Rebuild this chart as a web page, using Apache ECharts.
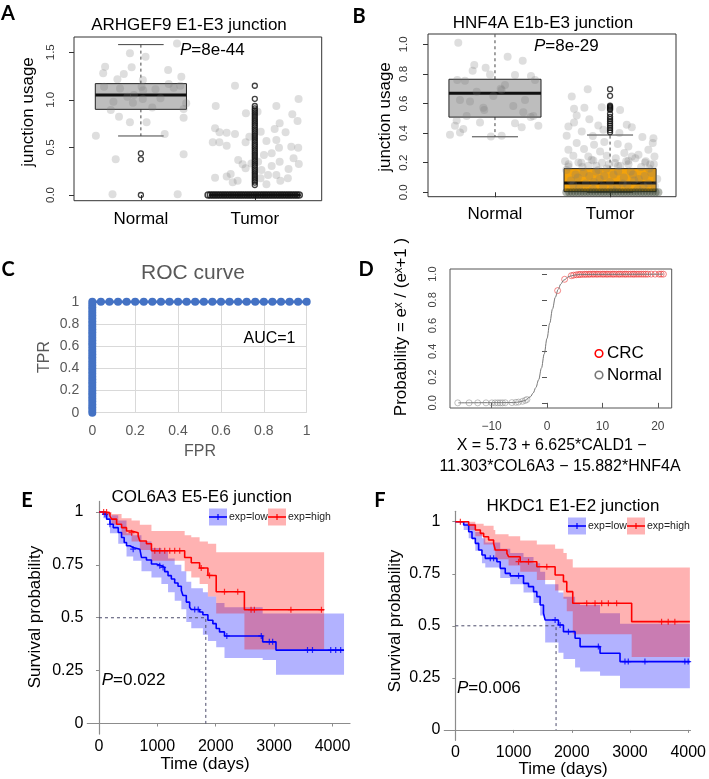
<!DOCTYPE html>
<html><head><meta charset="utf-8">
<script src="https://cdn.jsdelivr.net/npm/echarts@6/dist/echarts.min.js"></script>
<style>html,body{margin:0;padding:0;background:#fff}#c{width:709px;height:779px}</style>
</head><body><div id="c"></div>
<script>
// ================= DATA =================
const boxCategories = ['Normal', 'Tumor'];
// box stats: [x, lowerWhisker, Q1, median, Q3, upperWhisker]
const aBoxNormal = [1, 0.62, 0.90, 1.05, 1.17, 1.58];
const aBoxTumor = [2, 0, 0, 0, 0, 0];
const bBoxNormal = [1, 0.375, 0.508, 0.669, 0.764, 1.12];
const bBoxTumor = [2, 0, 0.004, 0.063, 0.16, 0.387];

const aNormalJitter = [[0.904,1.488],[1.041,1.453],[0.686,1.348],[0.919,1.341],[0.669,1.278],[1.239,1.313],[0.794,1.215],[1.017,1.208],[1.355,1.243],[1.244,1.166],[0.677,1.138],[0.817,1.12],[1.006,1.138],[1.128,1.11],[1.288,1.128],[1.346,1.148],[0.939,1.05],[0.881,1.033],[0.759,0.98],[0.93,0.97],[1.017,1.008],[1.172,1.016],[1.398,0.963],[0.736,0.893],[1.375,0.903],[0.808,0.823],[0.904,0.763],[1.05,0.763],[1.375,0.812],[0.605,0.623],[1.209,0.641],[0.779,0.375],[1.375,0.428],[0.751,0.007],[1.323,0.007],[1.317,1.593],[1.02,1.1],[0.85,1.27],[1.1,0.92]];
const aNormalOutliers = [[1,0.438],[1,0.375],[1,0.0]];
const aTumorJitter = [[1.826,1.148],[1.657,0.935],[2.189,0.935],[2.384,1.008],[1.922,0.858],[2.024,0.875],[2.329,0.848],[2.375,0.777],[2.218,0.753],[1.651,0.7],[1.753,0.654],[1.826,0.641],[1.69,0.66],[2.052,0.665],[2.174,0.693],[2.27,0.658],[1.952,0.612],[1.631,0.554],[1.689,0.554],[1.753,0.518],[1.919,0.554],[2.102,0.567],[2.189,0.578],[2.32,0.507],[2.381,0.497],[2.148,0.438],[2.212,0.497],[1.854,0.368],[1.893,0.322],[2.029,0.35],[2.218,0.35],[2.34,0.385],[2.386,0.326],[2.148,0.305],[2.296,0.273],[1.919,0.28],[2.058,0.263],[2.116,0.21],[2.189,0.21],[1.788,0.221],[1.753,0.193],[1.651,0.182],[1.849,0.15],[1.806,0.133],[2.05,0.175],[2.224,0.15],[2.29,0.175],[2.102,0.112],[1.97,0.33],[2.08,0.42]];
const aTumorOutlierY = [1.148,1.01,0.935,0.91,0.89,0.87,0.85,0.83,0.81,0.79,0.77,0.75,0.73,0.71,0.69,0.67,0.65,0.63,0.61,0.59,0.57,0.55,0.53,0.51,0.49,0.47,0.45,0.43,0.41,0.39,0.37,0.35,0.33,0.31,0.29,0.27,0.25,0.23,0.21,0.19,0.17,0.15,0.13,0.105];
const aTumorZeroX = [1.59,1.61,1.63,1.65,1.67,1.69,1.71,1.73,1.75,1.77,1.79,1.81,1.83,1.85,1.87,1.89,1.91,1.93,1.95,1.97,1.99,2.01,2.03,2.05,2.07,2.09,2.11,2.13,2.15,2.17,2.19,2.21,2.23,2.25,2.27,2.29,2.31,2.33,2.35,2.37,2.39];

const bNormalJitter = [[0.681,1.01],[1.11,0.916],[1.241,0.889],[0.82,0.86],[0.919,0.842],[0.806,0.822],[0.957,0.797],[1.174,0.793],[1.313,0.786],[0.672,0.759],[0.739,0.754],[1.348,0.759],[1.087,0.725],[0.841,0.68],[1.058,0.692],[0.986,0.651],[0.696,0.624],[0.783,0.613],[1.261,0.624],[0.899,0.572],[0.907,0.557],[1.159,0.584],[1.246,0.541],[1.333,0.516],[0.754,0.516],[0.667,0.485],[0.87,0.471],[1.174,0.467],[1.31,0.508],[0.652,0.449],[1.377,0.449],[1.232,0.44],[0.725,0.427],[0.696,0.404],[0.609,0.389],[0.965,0.377],[1.058,0.382],[1.05,0.7]];
const bTumorJitter = [[1.806,0.696],[1.667,0.647],[1.777,0.572],[1.687,0.564],[1.928,0.575],[2.087,0.557],[1.71,0.519],[1.82,0.494],[1.687,0.471],[1.638,0.444],[1.898,0.451],[2.145,0.456],[2.189,0.44],[1.754,0.411],[1.942,0.422],[2.081,0.4],[1.623,0.382],[1.85,0.38],[2.281,0.373],[2.377,0.366],[2.371,0.333],[1.71,0.333],[1.95,0.34],[1.861,0.321],[2.067,0.326],[2.159,0.31],[1.638,0.288],[1.774,0.292],[1.913,0.276],[2.124,0.265],[2.333,0.288],[2.386,0.242],[1.681,0.247],[1.811,0.242],[1.971,0.247],[2.189,0.242],[2.247,0.254],[1.609,0.209],[1.725,0.202],[1.855,0.215],[2.043,0.198],[2.159,0.213],[2.304,0.202],[1.638,0.175],[1.88,0.18],[2.07,0.178],[2.35,0.19],
[1.62,0.15],[1.66,0.08],[1.70,0.12],[1.73,0.03],[1.76,0.17],[1.79,0.06],[1.82,0.11],[1.85,0.02],[1.88,0.14],[1.91,0.09],[1.94,0.04],[1.97,0.16],[2.0,0.07],[2.03,0.12],[2.06,0.03],[2.09,0.18],[2.12,0.1],[2.15,0.05],[2.18,0.14],[2.21,0.08],[2.24,0.02],[2.27,0.17],[2.3,0.11],[2.33,0.06],[2.36,0.13],[2.39,0.04],[2.41,0.09],[1.64,0.19],[1.68,0.05],[1.72,0.1],[1.77,0.13],[1.81,0.18],[1.86,0.07],[1.9,0.15],[1.95,0.11],[1.99,0.19],[2.02,0.02],[2.07,0.14],[2.11,0.06],[2.16,0.19],[2.2,0.12],[2.25,0.09],[2.29,0.04],[2.34,0.16],[2.38,0.19],[1.75,0.2],[1.93,0.2],[2.14,0.21],[2.31,0.21],[1.84,0.22],[2.05,0.23],[2.22,0.23]];
const bTumorZeroX = [1.62,1.645,1.67,1.695,1.72,1.745,1.77,1.795,1.82,1.845,1.87,1.895,1.92,1.945,1.97,1.995,2.02,2.045,2.07,2.095,2.12,2.145,2.17,2.195,2.22,2.245,2.27,2.295,2.32,2.345,2.37,2.395,2.42];
const bTumorOutlierY = [0.697,0.652,0.585,0.578,0.572,0.565,0.558,0.53,0.51,0.495,0.48,0.465,0.45,0.435,0.42,0.405];

// ROC
const rocFPR = [0,0,0,0,0,0,0,0,0,0,0,0,0,0,0,0,0,0,0,0,0,0,0,0,0,0,0,0,0,0,0,0,0,0,0,0,0,0,0,0,0,0.04,0.08,0.12,0.16,0.2,0.24,0.28,0.32,0.36,0.4,0.44,0.48,0.52,0.56,0.6,0.64,0.68,0.72,0.76,0.8,0.84,0.88,0.92,0.96,1.0];
const rocTPR = [0,0.025,0.05,0.075,0.1,0.125,0.15,0.175,0.2,0.225,0.25,0.275,0.3,0.325,0.35,0.375,0.4,0.425,0.45,0.475,0.5,0.525,0.55,0.575,0.6,0.625,0.65,0.675,0.7,0.725,0.75,0.775,0.8,0.825,0.85,0.875,0.9,0.925,0.95,0.975,1,1,1,1,1,1,1,1,1,1,1,1,1,1,1,1,1,1,1,1,1,1,1,1,1,1];

// logistic panel
const dNormalX = [-16.1,-14.05,-12.5,-11.0,-9.95,-9.35,-8.86,-8.44,-8.03,-7.54,-6.33,-5.61,-5.13,-4.41,-3.92,-3.62];
const dNormalY = [0,0,0,0,0,0,0,0,0,0.001,0.002,0.004,0.006,0.012,0.019,0.026];
const dCrcX = [1.92,3.18,4.39,4.8,5.3,5.7,6.0,6.4,6.8,7.1,7.5,7.8,8.2,8.5,8.9,9.2,9.6,10.0,10.3,10.7,11.0,11.4,11.8,12.1,12.5,12.9,13.2,13.6,14.0,14.3,14.7,15.1,15.5,15.8,16.2,16.6,17.0,17.4,17.8,18.2,18.8,19.5,20.2,20.6,21.0];
const dCrcY = [0.872,0.96,0.988,0.992,0.995,0.997,0.998,0.998,0.999,0.999,0.999,1,1,1,1,1,1,1,1,1,1,1,1,1,1,1,1,1,1,1,1,1,1,1,1,1,1,1,1,1,1,1,1,1,1];
const dCurveX = [-16,-6,-5,-4,-3,-2.5,-2,-1.5,-1,-0.5,0,0.5,1,1.5,2,2.5,3,4,5,6,21];
const dCurveY = [0,0.002,0.007,0.018,0.047,0.076,0.12,0.18,0.27,0.38,0.5,0.62,0.73,0.82,0.88,0.924,0.953,0.982,0.993,0.998,1];

// Kaplan-Meier: [days, survival]
const eLowCurve = [[0,1],[74,0.989],[131,0.966],[188,0.942],[245,0.926],[330,0.903],[387,0.879],[432,0.856],[472,0.84],[529,0.832],[586,0.824],[700,0.817],[728,0.785],[813,0.773],[899,0.754],[984,0.746],[1069,0.738],[1126,0.718],[1183,0.699],[1240,0.683],[1297,0.664],[1354,0.649],[1411,0.629],[1439,0.605],[1496,0.574],[1553,0.55],[1581,0.539],[1724,0.527],[1780,0.514],[1866,0.488],[1951,0.472],[2008,0.449],[2065,0.433],[2150,0.414],[2804,0.386],[3032,0.347],[4198,0.347]];
const eHighCurve = [[0,1],[102,0.995],[188,0.98],[216,0.966],[302,0.942],[387,0.926],[472,0.91],[558,0.902],[671,0.887],[700,0.863],[813,0.85],[899,0.817],[1468,0.785],[1581,0.76],[1724,0.735],[1866,0.70],[2008,0.623],[2491,0.538],[3857,0.538]];
// confidence bands: [days, lower, upper]
const eLowBand = [[0,1,1],[74,0.97,1],[188,0.9,0.985],[330,0.85,0.96],[472,0.79,0.9],[586,0.77,0.89],[728,0.72,0.86],[899,0.69,0.83],[1069,0.66,0.82],[1183,0.62,0.78],[1297,0.58,0.75],[1411,0.54,0.72],[1496,0.48,0.67],[1581,0.45,0.64],[1780,0.42,0.62],[1866,0.39,0.6],[2008,0.36,0.57],[2150,0.31,0.55],[2804,0.3,0.52],[3032,0.23,0.52],[4198,0.23,0.52]];
const eHighBand = [[0,1,1],[102,0.985,1],[216,0.94,0.99],[387,0.89,0.97],[558,0.86,0.96],[700,0.82,0.94],[899,0.77,0.91],[1468,0.72,0.89],[1581,0.69,0.88],[1724,0.66,0.86],[1866,0.6,0.85],[2008,0.52,0.81],[2491,0.35,0.81],[3857,0.35,0.81]];
const eLowCensor = [[102,0.989],[188,0.942],[586,0.824],[1041,0.746],[1098,0.738],[1640,0.539],[1700,0.539],[2190,0.414],[2780,0.414],[2918,0.386],[2975,0.386],[3572,0.347],[3657,0.347],[3970,0.347],[4055,0.347],[4140,0.347]];
const eHighCensor = [[80,1],[130,1],[558,0.902],[956,0.817],[1041,0.817],[1126,0.817],[1212,0.817],[1297,0.817],[1383,0.817],[1752,0.735],[1894,0.70],[2150,0.623],[2377,0.623],[2605,0.538],[2662,0.538],[3288,0.538],[3811,0.538]];
const eMedian = [[0,0.5],[1830,0.5],[1830,0]];

const fLowCurve = [[0,1],[143,0.984],[229,0.952],[286,0.92],[343,0.896],[400,0.864],[457,0.84],[514,0.824],[714,0.808],[771,0.776],[857,0.752],[943,0.74],[1171,0.704],[1257,0.688],[1343,0.664],[1400,0.64],[1457,0.6],[1514,0.56],[1543,0.528],[1771,0.504],[1857,0.472],[2057,0.44],[2143,0.4],[2486,0.368],[2829,0.328],[4029,0.328]];
const fHighCurve = [[0,1],[229,0.984],[343,0.96],[429,0.944],[486,0.928],[571,0.912],[657,0.896],[686,0.864],[886,0.848],[914,0.832],[1114,0.808],[1400,0.784],[1714,0.744],[1857,0.712],[1914,0.664],[2017,0.608],[3029,0.52],[4029,0.52]];
const fLowBand = [[0,1,1],[143,0.96,1],[229,0.92,0.99],[343,0.86,0.95],[457,0.8,0.92],[514,0.78,0.9],[771,0.73,0.87],[943,0.7,0.85],[1171,0.66,0.83],[1343,0.61,0.8],[1457,0.55,0.76],[1543,0.42,0.7],[1771,0.37,0.66],[1857,0.34,0.64],[2057,0.3,0.61],[2143,0.28,0.6],[2486,0.26,0.56],[2829,0.2,0.51],[4029,0.2,0.51]];
const fHighBand = [[0,1,1],[229,0.96,1],[343,0.93,0.99],[486,0.89,0.98],[657,0.86,0.96],[686,0.82,0.94],[914,0.79,0.93],[1114,0.76,0.91],[1400,0.72,0.89],[1714,0.67,0.87],[1857,0.63,0.85],[1914,0.57,0.82],[2017,0.46,0.78],[3029,0.35,0.78],[4029,0.35,0.78]];
const fLowCensor = [[600,0.824],[657,0.824],[1086,0.74],[1714,0.528],[1800,0.504],[1943,0.472],[2457,0.4],[2914,0.328],[2971,0.328],[3257,0.328],[3943,0.328],[4000,0.328]];
const fHighCensor = [[86,1],[1086,0.808],[1257,0.808],[1571,0.784],[2257,0.608],[2400,0.608],[2514,0.608],[2629,0.608],[2771,0.608],[3543,0.52],[3657,0.52],[3771,0.52]];
const fMedian = [[0,0.5],[1730,0.5],[1730,0]];

const kmTicksX = [0,1000,2000,3000,4000];
const kmTicksY = [0,0.25,0.5,0.75,1];

// ================= CHART =================
const FF = '"Liberation Sans", Arial, Helvetica, sans-serif';
const chart = echarts.init(document.getElementById('c'), null, {renderer: 'canvas'});

function txt(x, y, text, size, o) {
  o = o || {};
  const al = o.align || 'center';
  return {type: 'text', x: x, y: y, rotation: o.rot || 0, z: 100, silent: true,
    style: {text: text, fontSize: size, fontFamily: o.ff || FF, fontWeight: o.fw || 'normal',
      fill: o.color || '#000', align: al, verticalAlign: 'middle', textAlign: al, textVerticalAlign: 'middle',
      rich: o.rich}};
}
function richP(x, y, rest, size) {
  return txt(x, y, '{i|P}{n|' + rest + '}', size, {align: 'left',
    rich: {i: {fontStyle: 'italic', fontSize: size, fontFamily: FF, fill: '#000'},
           n: {fontSize: size, fontFamily: FF, fill: '#000'}}});
}

function boxRender(fill) {
  return function (params, api) {
    const x = api.value(0), lo = api.value(1), q1 = api.value(2), med = api.value(3), q3 = api.value(4), hi = api.value(5);
    const hw = 0.4, cw = 0.2;
    const tl = api.coord([x - hw, q3]), br = api.coord([x + hw, q1]);
    const c = api.coord([x, q1]), c3 = api.coord([x, q3]), pLo = api.coord([x, lo]), pHi = api.coord([x, hi]);
    const loL = api.coord([x - cw, lo]), loR = api.coord([x + cw, lo]);
    const hiL = api.coord([x - cw, hi]), hiR = api.coord([x + cw, hi]);
    const mL = api.coord([x - hw, med]), mR = api.coord([x + hw, med]);
    const dash = {stroke: '#444', lineWidth: 1, lineDash: [3, 3]};
    const sol = {stroke: '#444', lineWidth: 1};
    return {type: 'group', children: [
      {type: 'line', shape: {x1: c3[0], y1: c3[1], x2: pHi[0], y2: pHi[1]}, style: dash},
      {type: 'line', shape: {x1: c[0], y1: c[1], x2: pLo[0], y2: pLo[1]}, style: dash},
      {type: 'line', shape: {x1: hiL[0], y1: hiL[1], x2: hiR[0], y2: hiR[1]}, style: sol},
      {type: 'line', shape: {x1: loL[0], y1: loL[1], x2: loR[0], y2: loR[1]}, style: sol},
      {type: 'rect', shape: {x: tl[0], y: tl[1], width: br[0] - tl[0], height: Math.max(br[1] - tl[1], 0.5)}, style: {fill: fill, stroke: '#222', lineWidth: 1}},
      {type: 'line', shape: {x1: mL[0], y1: mL[1], x2: mR[0], y2: mR[1]}, style: {stroke: '#111', lineWidth: 3}}
    ]};
  };
}
function boxSeries(gi, stats, fill) {
  return {type: 'custom', xAxisIndex: gi, yAxisIndex: gi, clip: true, silent: true,
    data: [stats], encode: {x: 0, y: 1}, renderItem: boxRender(fill)};
}
function jitterSeries(gi, pts) {
  return {type: 'scatter', xAxisIndex: gi, yAxisIndex: gi, data: pts, symbol: 'circle', symbolSize: 8, silent: true,
    itemStyle: {color: 'rgba(120,120,120,0.3)'}};
}
function ringSeries(gi, pts, size, color, bw) {
  return {type: 'scatter', xAxisIndex: gi, yAxisIndex: gi, data: pts, symbol: 'circle', symbolSize: size, silent: true,
    itemStyle: {color: 'rgba(0,0,0,0)', borderColor: color, borderWidth: bw}};
}
function bandSeries(gi, steps, color) {
  return {type: 'custom', xAxisIndex: gi, yAxisIndex: gi, silent: true, clip: true, data: [[0, 0]], encode: {x: 0, y: 1},
    renderItem: function (params, api) {
      const up = [], lo = [];
      for (let i = 0; i < steps.length; i++) {
        const t = steps[i][0], l = steps[i][1], u = steps[i][2];
        const tn = i + 1 < steps.length ? steps[i + 1][0] : t;
        up.push(api.coord([t, u]), api.coord([tn, u]));
        lo.push(api.coord([t, l]), api.coord([tn, l]));
      }
      return {type: 'polygon', shape: {points: up.concat(lo.reverse())}, style: {fill: color}};
    }};
}
function kmLine(gi, data, color) {
  return {type: 'line', xAxisIndex: gi, yAxisIndex: gi, data: data, step: 'end', symbol: 'none', silent: true,
    lineStyle: {color: color, width: 1.6}, z: 3};
}
const PLUS = 'path://M4,0h2v4h4v2h-4v4h-2v-4h-4v-2h4z';
function censor(gi, data, color) {
  return {type: 'scatter', xAxisIndex: gi, yAxisIndex: gi, data: data, symbol: PLUS, symbolSize: 6, silent: true,
    itemStyle: {color: color}, z: 4};
}
function medianLine(gi, data) {
  return {type: 'line', xAxisIndex: gi, yAxisIndex: gi, data: data, symbol: 'none', silent: true,
    lineStyle: {color: '#4a4a6a', width: 1, type: [3, 3]}, z: 5};
}
function zip(xs, ys) { return xs.map((v, i) => [v, ys[i]]); }

const noSplit = {show: false};
function boxXAxis(gi, min, max, margin) {
  return {gridIndex: gi, type: 'value', min: min, max: max, axisLine: {show: false}, splitLine: noSplit,
    axisTick: {show: true, customValues: [1, 2], length: 5, lineStyle: {color: '#333'}},
    axisLabel: {customValues: [1, 2], formatter: v => boxCategories[Math.round(v) - 1], fontSize: 17, fontFamily: FF, color: '#000', margin: margin}};
}
function boxYAxis(gi, min, max, ticks, margin) {
  return {gridIndex: gi, type: 'value', min: min, max: max, axisLine: {show: false}, splitLine: noSplit,
    axisTick: {show: true, customValues: ticks, length: 5, lineStyle: {color: '#333'}},
    axisLabel: {customValues: ticks, formatter: v => v.toFixed(1), rotate: 90, fontSize: 11.5, fontFamily: FF, color: '#333', margin: margin}};
}
function kmXAxis(gi, min, max) {
  return {gridIndex: gi, type: 'value', min: min, max: max, splitLine: noSplit,
    axisLine: {show: true, lineStyle: {color: '#8c8c8c', width: 1.2}},
    axisTick: {show: true, customValues: kmTicksX, length: 3, lineStyle: {color: '#8c8c8c'}},
    axisLabel: {customValues: kmTicksX, formatter: v => String(v), fontSize: 16, fontFamily: FF, color: '#000', margin: 4}};
}
function kmYAxis(gi) {
  return {gridIndex: gi, type: 'value', min: -0.05, max: 1.05, splitLine: noSplit,
    axisLine: {show: true, lineStyle: {color: '#8c8c8c', width: 1.2}},
    axisTick: {show: true, customValues: kmTicksY, length: 3, lineStyle: {color: '#8c8c8c'}},
    axisLabel: {customValues: kmTicksY, formatter: v => String(v), fontSize: 16, fontFamily: FF, color: '#000', margin: 4}};
}

const option = {
  animation: false,
  backgroundColor: '#fff',
  grid: [
    {left: 74, top: 37, width: 247.7, height: 163.7, show: true, borderColor: '#333', borderWidth: 1, backgroundColor: 'transparent', outerBoundsMode: 'none'},
    {left: 428, top: 34, width: 248, height: 162.7, show: true, borderColor: '#333', borderWidth: 1, backgroundColor: 'transparent', outerBoundsMode: 'none'},
    {left: 92.3, top: 301.7, width: 214.4, height: 111, outerBoundsMode: 'none'},
    {left: 450, top: 269, width: 221.7, height: 139, show: true, borderColor: '#555', borderWidth: 1, backgroundColor: 'transparent', outerBoundsMode: 'none'},
    {left: 87.3, top: 501.4, width: 262.7, height: 232.7, outerBoundsMode: 'none'},
    {left: 444.3, top: 511.3, width: 246.2, height: 229, outerBoundsMode: 'none'}
  ],
  xAxis: [
    boxXAxis(0, 0.413, 2.587, 10),
    boxXAxis(1, 0.418, 2.573, 9),
    {gridIndex: 2, type: 'value', min: 0, max: 1, interval: 0.2, axisLine: {show: false}, axisTick: {show: false},
      splitLine: {show: true, lineStyle: {color: '#d9d9d9', width: 1}},
      axisLabel: {fontSize: 14, fontFamily: FF, color: '#595959', margin: 11}},
    {gridIndex: 3, type: 'value', min: -17.5, max: 22.5, axisLine: {show: false}, splitLine: noSplit,
      axisTick: {show: true, customValues: [-10, 0, 10, 20], length: 5, lineStyle: {color: '#555'}},
      axisLabel: {customValues: [-10, 0, 10, 20], formatter: v => (v < 0 ? '\u2212' + Math.abs(v) : String(v)), fontSize: 12, fontFamily: FF, color: '#444', margin: 13}},
    kmXAxis(4, -200, 4300),
    kmXAxis(5, -190, 4040)
  ],
  yAxis: [
    boxYAxis(0, -0.06, 1.66, [0, 0.5, 1, 1.5], 17.5),
    boxYAxis(1, -0.03, 1.07, [0, 0.2, 0.4, 0.6, 0.8, 1.0], 18.5),
    {gridIndex: 2, type: 'value', min: 0, max: 1, interval: 0.2, axisLine: {show: false}, axisTick: {show: false},
      splitLine: {show: true, lineStyle: {color: '#d9d9d9', width: 1}},
      axisLabel: {fontSize: 14, fontFamily: FF, color: '#595959', margin: 13}},
    {gridIndex: 3, type: 'value', min: -0.04, max: 1.04, axisLine: {show: false}, splitLine: noSplit,
      axisTick: {show: true, customValues: [0, 0.2, 0.4, 0.6, 0.8, 1.0], length: 5, lineStyle: {color: '#555'}},
      axisLabel: {customValues: [0, 0.2, 0.4, 0.6, 0.8, 1.0], formatter: v => v.toFixed(1), rotate: 90, fontSize: 11, fontFamily: FF, color: '#444', margin: 12}},
    kmYAxis(4),
    kmYAxis(5)
  ],
  series: [
    // A
    boxSeries(0, aBoxNormal, '#bdbdbd'),
    boxSeries(0, aBoxTumor, '#bdbdbd'),
    jitterSeries(0, aNormalJitter),
    jitterSeries(0, aTumorJitter),
    ringSeries(0, aNormalOutliers, 5, '#111', 1.3),
    ringSeries(0, aTumorOutlierY.map(v => [2, v]), 5, '#111', 1.3),
    ringSeries(0, aTumorZeroX.map(v => [v, 0]), 6, '#111', 1.5),
    // B
    boxSeries(1, bBoxNormal, '#bdbdbd'),
    boxSeries(1, bBoxTumor, '#f2a20c'),
    jitterSeries(1, bNormalJitter),
    jitterSeries(1, bTumorJitter),
    {type: 'scatter', xAxisIndex: 1, yAxisIndex: 1, data: bTumorZeroX.map(v => [v, 0]), symbol: 'circle', symbolSize: 8, silent: true,
      itemStyle: {color: 'rgba(40,50,30,0.45)'}},
    ringSeries(1, bTumorOutlierY.map(v => [2, v]), 5, '#111', 1.3),
    // C
    {type: 'line', xAxisIndex: 2, yAxisIndex: 2, data: zip(rocFPR, rocTPR), symbol: 'circle', symbolSize: 8, silent: true,
      itemStyle: {color: '#4472c4'}, lineStyle: {color: '#4472c4', width: 3}},
    // D
    {type: 'line', xAxisIndex: 3, yAxisIndex: 3, data: zip(dCurveX, dCurveY), smooth: 0.35, smoothMonotone: 'x', symbol: 'none', silent: true,
      lineStyle: {color: '#777', width: 1}},
    ringSeries(3, zip(dNormalX, dNormalY), 6, 'rgba(150,150,150,0.75)', 1),
    ringSeries(3, zip(dCrcX, dCrcY), 6, 'rgba(235,40,40,0.7)', 1),
    // E
    bandSeries(4, eLowBand, 'rgba(0,0,255,0.3)'),
    bandSeries(4, eHighBand, 'rgba(255,0,0,0.3)'),
    medianLine(4, eMedian),
    kmLine(4, eLowCurve, '#0000ff'),
    kmLine(4, eHighCurve, '#ff0000'),
    censor(4, eLowCensor, '#0000ff'),
    censor(4, eHighCensor, '#ff0000'),
    // F
    bandSeries(5, fLowBand, 'rgba(0,0,255,0.3)'),
    bandSeries(5, fHighBand, 'rgba(255,0,0,0.3)'),
    medianLine(5, fMedian),
    kmLine(5, fLowCurve, '#0000ff'),
    kmLine(5, fHighCurve, '#ff0000'),
    censor(5, fLowCensor, '#0000ff'),
    censor(5, fHighCensor, '#ff0000')
  ],
  graphic: [
    // panel letters
    txt(8, 14, 'A', 20, {fw: 'bold', ff: 'Lato, "Open Sans", sans-serif'}),
    txt(359, 17, 'B', 20, {fw: 'bold', ff: 'Lato, "Open Sans", sans-serif'}),
    txt(8, 270, 'C', 20, {fw: 'bold', ff: 'Lato, "Open Sans", sans-serif'}),
    txt(366, 270, 'D', 20, {fw: 'bold', ff: 'Lato, "Open Sans", sans-serif'}),
    txt(27, 501, 'E', 20, {fw: 'bold', ff: 'Lato, "Open Sans", sans-serif'}),
    txt(380, 501, 'F', 20, {fw: 'bold', ff: 'Lato, "Open Sans", sans-serif'}),
    // A
    txt(189, 25, 'ARHGEF9 E1-E3 junction', 17),
    richP(180, 50, '=8e-44', 17),
    txt(28, 112, 'junction usage', 17, {rot: Math.PI / 2}),
    // B
    txt(543, 23, 'HNF4A E1b-E3 junction', 17),
    richP(534, 46, '=8e-29', 17),
    txt(385, 117, 'junction usage', 17, {rot: Math.PI / 2}),
    // C
    txt(193, 273, 'ROC curve', 21, {color: '#595959'}),
    txt(45, 357, 'TPR', 16, {rot: Math.PI / 2, color: '#595959'}),
    txt(200, 452, 'FPR', 16, {color: '#595959'}),
    txt(269.5, 339, 'AUC=1', 16),
    // D
    txt(401.7, 327, 'Probability = e\u02e3 / (e\u02e3+1 )', 17, {rot: Math.PI / 2}),
    txt(551.7, 446, 'X = 5.73 + 6.625*CALD1 \u2212', 16),
    txt(560, 467, '11.303*COL6A3 \u2212 15.882*HNF4A', 16),
    {type: 'circle', shape: {cx: 599, cy: 353.5, r: 3.8}, style: {fill: 'none', stroke: '#ff0000', lineWidth: 1.6}, z: 100, silent: true},
    {type: 'circle', shape: {cx: 599, cy: 375, r: 3.8}, style: {fill: 'none', stroke: '#777', lineWidth: 1.6}, z: 100, silent: true},
    txt(607, 353.5, 'CRC', 17, {align: 'left'}),
    txt(607, 375, 'Normal', 17, {align: 'left'}),
    // E
    txt(201.7, 497.5, 'COL6A3 E5-E6 junction', 17),
    richP(101.7, 680.5, '=0.022', 17),
    txt(35, 617, 'Survival probability', 17, {rot: Math.PI / 2}),
    txt(205, 764.5, 'Time (days)', 17),
    {type: 'rect', shape: {x: 209, y: 508.5, width: 18, height: 17}, style: {fill: 'rgba(0,0,255,0.3)'}, z: 100, silent: true},
    {type: 'line', shape: {x1: 209, y1: 517, x2: 227, y2: 517}, style: {stroke: '#0000ff', lineWidth: 1.6}, z: 101, silent: true},
    {type: 'line', shape: {x1: 218, y1: 514, x2: 218, y2: 520}, style: {stroke: '#0000ff', lineWidth: 1.2}, z: 101, silent: true},
    txt(229, 517, 'exp=low', 10.5, {align: 'left', color: '#222'}),
    {type: 'rect', shape: {x: 268, y: 508.5, width: 18, height: 17}, style: {fill: 'rgba(255,0,0,0.3)'}, z: 100, silent: true},
    {type: 'line', shape: {x1: 268, y1: 517, x2: 286, y2: 517}, style: {stroke: '#ff0000', lineWidth: 1.6}, z: 101, silent: true},
    {type: 'line', shape: {x1: 277, y1: 514, x2: 277, y2: 520}, style: {stroke: '#ff0000', lineWidth: 1.2}, z: 101, silent: true},
    txt(288, 517, 'exp=high', 10.5, {align: 'left', color: '#222'}),
    // F
    txt(573, 506.5, 'HKDC1 E1-E2 junction', 17),
    richP(457, 688.3, '=0.006', 17),
    txt(395.5, 621, 'Survival probability', 17, {rot: Math.PI / 2}),
    txt(563, 769.5, 'Time (days)', 17),
    {type: 'rect', shape: {x: 568, y: 517.5, width: 18, height: 17}, style: {fill: 'rgba(0,0,255,0.3)'}, z: 100, silent: true},
    {type: 'line', shape: {x1: 568, y1: 526, x2: 586, y2: 526}, style: {stroke: '#0000ff', lineWidth: 1.6}, z: 101, silent: true},
    {type: 'line', shape: {x1: 577, y1: 523, x2: 577, y2: 529}, style: {stroke: '#0000ff', lineWidth: 1.2}, z: 101, silent: true},
    txt(588, 526, 'exp=low', 10.5, {align: 'left', color: '#222'}),
    {type: 'rect', shape: {x: 627, y: 517.5, width: 18, height: 17}, style: {fill: 'rgba(255,0,0,0.3)'}, z: 100, silent: true},
    {type: 'line', shape: {x1: 627, y1: 526, x2: 645, y2: 526}, style: {stroke: '#ff0000', lineWidth: 1.6}, z: 101, silent: true},
    {type: 'line', shape: {x1: 636, y1: 523, x2: 636, y2: 529}, style: {stroke: '#ff0000', lineWidth: 1.2}, z: 101, silent: true},
    txt(647, 526, 'exp=high', 10.5, {align: 'left', color: '#222'})
  ]
};
chart.setOption(option);
</script>
</body></html>
